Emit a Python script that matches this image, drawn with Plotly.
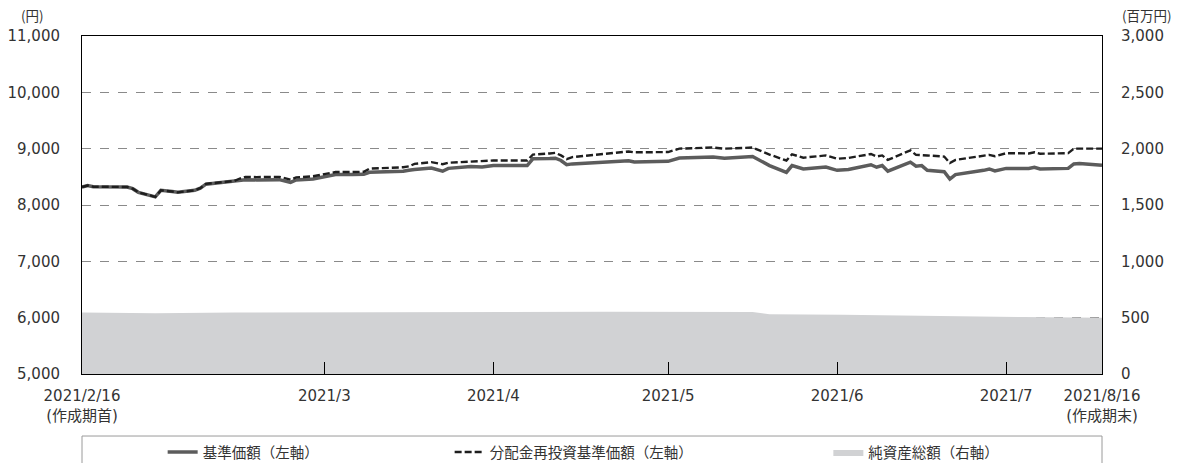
import plotly.graph_objects as go

# ---- data ----
dates = ["2021-02-16","2021-02-17","2021-02-18","2021-02-22","2021-02-24","2021-02-25","2021-02-26",
         "2021-03-01","2021-03-02","2021-03-04","2021-03-05","2021-03-08","2021-03-09","2021-03-10",
         "2021-03-12","2021-03-15","2021-03-16","2021-03-17","2021-03-19","2021-03-22","2021-03-23",
         "2021-03-25","2021-03-26","2021-03-29","2021-03-30","2021-04-01","2021-04-02","2021-04-05",
         "2021-04-07","2021-04-08","2021-04-12","2021-04-14","2021-04-15","2021-04-16","2021-04-19",
         "2021-04-21","2021-04-22","2021-04-26","2021-04-28","2021-04-30","2021-05-06","2021-05-07",
         "2021-05-10","2021-05-11","2021-05-12","2021-05-13","2021-05-14","2021-05-17","2021-05-18",
         "2021-05-20","2021-05-24","2021-05-25","2021-05-27","2021-05-31","2021-06-02","2021-06-04",
         "2021-06-08","2021-06-10","2021-06-14","2021-06-15","2021-06-18","2021-06-21","2021-06-22",
         "2021-06-24","2021-06-28","2021-06-30","2021-07-02","2021-07-06","2021-07-07","2021-07-08",
         "2021-07-09","2021-07-13","2021-07-14","2021-07-15","2021-07-16","2021-07-19","2021-07-20",
         "2021-07-21","2021-07-26","2021-07-27","2021-07-28","2021-07-30","2021-08-03","2021-08-04",
         "2021-08-05","2021-08-10","2021-08-11","2021-08-12","2021-08-16"]

nav = [8320,8345,8325,8320,8320,8290,8225,
       8145,8260,8240,8225,8260,8300,8370,
       8395,8420,8440,8450,8445,8450,8450,
       8400,8445,8460,8480,8510,8540,8540,
       8545,8580,8590,8600,8615,8630,8655,
       8600,8650,8685,8675,8700,8700,8820,
       8825,8830,8790,8715,8730,8745,8745,
       8760,8785,8765,8770,8775,8835,8840,
       8850,8830,8865,8860,8700,8580,8700,
       8640,8675,8615,8630,8715,8670,8700,
       8600,8760,8690,8700,8615,8590,8460,
       8540,8615,8640,8605,8650,8650,8670,
       8640,8650,8730,8735,8705]

nav_reinvested = [8320,8345,8325,8320,8320,8290,8225,
                  8145,8260,8240,8225,8260,8300,8375,
                  8400,8425,8470,8500,8495,8495,8500,
                  8450,8490,8510,8530,8575,8585,8585,
                  8590,8645,8655,8670,8685,8730,8760,
                  8725,8750,8775,8780,8790,8790,8895,
                  8915,8925,8880,8815,8850,8880,8885,
                  8910,8950,8935,8940,8940,9000,9005,
                  9020,9000,9025,9020,8895,8790,8900,
                  8840,8880,8820,8835,8905,8860,8880,
                  8800,8970,8890,8890,8880,8860,8745,
                  8800,8870,8890,8865,8920,8915,8935,
                  8910,8920,9000,9000,9000]

asset_dates = ["2021-02-16","2021-03-01","2021-03-15","2021-04-01","2021-04-15","2021-05-06",
               "2021-05-20","2021-06-15","2021-06-18","2021-07-01","2021-07-15","2021-08-02","2021-08-16"]
net_assets = [545,540,545,548,552,555,553,550,530,525,515,505,500]

x_tickvals = ["2021-02-16","2021-03-31","2021-04-30","2021-05-31","2021-06-30","2021-07-30","2021-08-16"]
x_ticktext = ["2021/2/16<br>(作成期首)","2021/3","2021/4","2021/5","2021/6","2021/7","2021/8/16<br>(作成期末)"]

name_nav = "基準価額（左軸）"
name_reinv = "分配金再投資基準価額（左軸）"
name_assets = "純資産総額（右軸）"

FONT = "DejaVu Sans, Noto Sans CJK JP, sans-serif"
JFONT = "Noto Sans CJK JP, sans-serif"
TXT = "#333333"

fig = go.Figure()

fig.add_trace(go.Scatter(
    x=asset_dates, y=net_assets, yaxis="y2", mode="lines",
    line=dict(width=0, color="#d1d2d4"), fill="tozeroy", fillcolor="#d1d2d4",
    name=name_assets, legend="legend3", hoverinfo="skip"))

fig.add_trace(go.Scatter(
    x=dates, y=nav, mode="lines", line=dict(color="#5c5c5c", width=3.5),
    name=name_nav, legend="legend"))

fig.add_trace(go.Scatter(
    x=dates, y=nav_reinvested, mode="lines",
    line=dict(color="#1e1e1e", width=2.4, dash="7px,3px"),
    name=name_reinv, legend="legend2"))

leg_common = dict(orientation="h", yanchor="middle", y=-0.231, xanchor="center",
                  font=dict(family=JFONT, size=14.5, color=TXT),
                  bgcolor="rgba(0,0,0,0)", borderwidth=0)

fig.update_layout(
    width=1182, height=463,
    margin=dict(l=82, r=80, t=36, b=89, autoexpand=False),
    paper_bgcolor="white", plot_bgcolor="white",
    font=dict(family=FONT, size=15, color=TXT),
    showlegend=True,
    legend=dict(x=0.158, **leg_common),
    legend2=dict(x=0.482, **leg_common),
    legend3=dict(x=0.818, **leg_common),
    xaxis=dict(
        type="date", range=["2021-02-16", "2021-08-16"],
        tickvals=x_tickvals, ticktext=x_ticktext,
        ticks="inside", ticklen=12, tickcolor="black", tickwidth=1,
        showgrid=False, zeroline=False, automargin=False,
        showline=True, linecolor="black", linewidth=1, mirror=True,
        tickfont=dict(family=FONT, size=15, color=TXT),
        ticklabelstandoff=8,
    ),
    yaxis=dict(
        range=[5000, 11000], dtick=1000, tick0=5000, tickformat=",d",
        showgrid=True, gridcolor="#8a8a8a", griddash="dash", gridwidth=1,
        zeroline=False, ticks="", automargin=False,
        showline=True, linecolor="black", linewidth=1, mirror=True,
        tickfont=dict(family=FONT, size=15, color=TXT),
        ticklabelstandoff=18,
    ),
    yaxis2=dict(
        range=[0, 3000], dtick=500, tick0=0, tickformat=",d",
        overlaying="y", side="right", showgrid=False, zeroline=False,
        ticks="", showline=False, automargin=False,
        tickfont=dict(family=FONT, size=15, color=TXT),
        ticklabelstandoff=18,
    ),
    shapes=[dict(type="rect", xref="paper", yref="paper",
                 x0=0, x1=1, y0=-0.31, y1=-0.1835,
                 line=dict(color="#9a9a9a", width=1), fillcolor="rgba(0,0,0,0)", layer="below")],
    annotations=[
        dict(text="(円)", xref="paper", yref="paper", x=-0.049, y=1.062,
             xanchor="center", yanchor="middle", showarrow=False,
             font=dict(family=JFONT, size=13.5, color=TXT)),
        dict(text="(百万円)", xref="paper", yref="paper", x=1.0445, y=1.062,
             xanchor="center", yanchor="middle", showarrow=False,
             font=dict(family=JFONT, size=13.5, color=TXT)),
    ],
)

fig.write_html("out.html", config={"displayModeBar": False},
               post_script="document.body.style.margin='0';document.body.style.overflow='hidden';")
